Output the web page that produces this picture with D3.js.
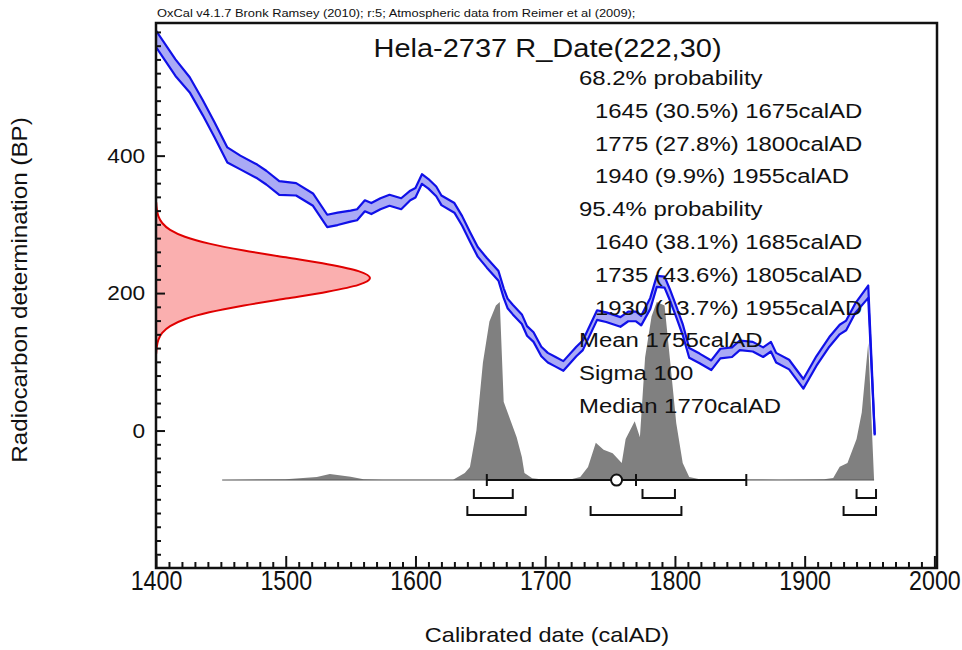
<!DOCTYPE html>
<html>
<head>
<meta charset="utf-8">
<script src="https://cdn.jsdelivr.net/npm/d3@7"></script>
<style>
body{margin:0;background:#fff}
svg{display:block}
text{font-family:"Liberation Sans",Arial,sans-serif;fill:#111}
</style>
</head>
<body>
<svg width="962" height="650"></svg>
<script>
// calibration curve (IntCal09 atmospheric): year, BP, 1 sigma
var calYears = [1400,1415,1426,1436,1445,1455,1465,1478,1485,1495,1508,1521,1532,1540,1550,1555,1561,1566,1573,1580,1589,1596,1600,1605,1610,1616,1620,1630,1636,1642,1648,1655,1664,1668,1671,1675,1682,1686,1691,1697,1702,1708,1714,1724,1729,1740,1747,1758,1764,1770,1774,1781,1786,1792,1796,1801,1806,1811,1819,1828,1835,1844,1850,1860,1868,1874,1878,1888,1899,1909,1919,1927,1932,1939,1949,1954];
var calBP    = [570,528,503,470,438,401,390,377,368,353,351,336,305,308,312,314,327,323,330,335,330,342,346,366,359,348,335,324,305,282,260,244,225,200,185,176,162,145,136,115,106,100,94,115,124,168,165,158,166,166,160,185,217,216,198,173,147,113,105,95,112,114,124,122,114,122,106,96,68,101,129,147,153,178,202,-6];
var calErr   = [12,12,11,11,11,11,10,10,10,10,9,9,9,9,8,8,8,8,8,8,8,7,7,7,7,7,7,7,7,7,7,7,7,7,7,7,7,7,7,7,7,7,7,7,7,7,7,7,7,7,7,8,8,8,8,8,8,7,7,7,7,7,7,7,7,7,7,7,7,7,7,7,7,7,9,1];

// R_Date(222,30) likelihood
var rdateBP   = [112,122,132,142,152,162,172,182,192,202,212,222,232,242,252,262,272,282,292,302,312,322,332];
var rdateProb = [0.001,0.004,0.011,0.029,0.066,0.135,0.249,0.411,0.607,0.801,0.946,1,0.946,0.801,0.607,0.411,0.249,0.135,0.066,0.029,0.011,0.004,0.001];

// calibrated probability (relative)
var probYears  = [1451,1500,1524,1534,1550,1560,1575,1629,1638,1642,1647,1652,1657,1662,1665,1668,1673,1678,1682,1684,1690,1700,1720,1727,1733,1739,1745,1752,1759,1762,1769,1773,1777,1782,1786,1792,1796,1801,1806,1811,1820,1850,1880,1900,1915,1922,1927,1933,1940,1944,1949,1953.5];
var probValues = [0,0.005,0.017,0.034,0.019,0.004,0.002,0.002,0.04,0.073,0.28,0.66,0.89,0.98,1,0.44,0.34,0.24,0.13,0.04,0.01,0.002,0.004,0.017,0.073,0.21,0.17,0.15,0.096,0.23,0.33,0.24,0.69,0.92,1,0.98,0.69,0.32,0.096,0.017,0.003,0.003,0.002,0.003,0.005,0.011,0.075,0.095,0.23,0.38,0.77,0];

var range68 = [[1645,1675],[1775,1800],[1940,1955]];
var range95 = [[1640,1685],[1735,1805],[1930,1955]];
var meanYear = 1755, sigmaYears = 100, medianYear = 1770;

var xTicks = [1400,1500,1600,1700,1800,1900,2000];
var yTicks = [0,200,400];

var headerText = "OxCal v4.1.7 Bronk Ramsey (2010); r:5; Atmospheric data from Reimer et al (2009);";
var titleText = "Hela-2737 R_Date(222,30)";
var summaryLines = [
  ["68.2% probability", 0],
  ["1645 (30.5%) 1675calAD", 1],
  ["1775 (27.8%) 1800calAD", 1],
  ["1940 (9.9%) 1955calAD", 1],
  ["95.4% probability", 0],
  ["1640 (38.1%) 1685calAD", 1],
  ["1735 (43.6%) 1805calAD", 1],
  ["1930 (13.7%) 1955calAD", 1],
  ["Mean 1755calAD", 0],
  ["Sigma 100", 0],
  ["Median 1770calAD", 0]
];

var pL = 156, pR = 937, pT = 23, pB = 568;

var svg = d3.select('svg');

var x = d3.scaleLinear().domain([1400, 2002]).range([pL, pR]);
var y = d3.scaleLinear().domain([-200, 593]).range([pB, pT]);

svg.append('defs').append('clipPath').attr('id','plotclip')
  .append('rect').attr('x',pL).attr('y',pT).attr('width',pR-pL).attr('height',pB-pT);

var plot = svg.append('g').attr('clip-path','url(#plotclip)');

function txt(g, s, tx, ty, size, sx, anchor) {
  return g.append('text')
    .attr('transform','translate(' + tx + ',' + ty + ') scale(' + sx + ',1)')
    .attr('font-size', size)
    .attr('text-anchor', anchor || 'start')
    .text(s);
}

// red likelihood on the y axis
var rdate = rdateBP.map(function(b,i){ return {bp:b, p:rdateProb[i]}; });
var rx = d3.scaleLinear().domain([0,1]).range([pL, pL+214]);
plot.append('path')
  .datum(rdate)
  .attr('d', d3.area().curve(d3.curveMonotoneY)
    .y(d=>y(d.bp)).x0(pL).x1(d=>rx(d.p)))
  .attr('fill','rgb(250,175,175)');
plot.append('path')
  .datum(rdate)
  .attr('d', d3.line().curve(d3.curveMonotoneY).y(d=>y(d.bp)).x(d=>rx(d.p)))
  .attr('fill','none').attr('stroke','#e00000').attr('stroke-width',2);

// grey calibrated distribution
var baseBP = -72;
var yBase = y(baseBP);
var py = d3.scaleLinear().domain([0,1]).range([yBase, yBase-178]);
var prob = probYears.map(function(t,i){ return {t:t, p:probValues[i]}; });
plot.append('path')
  .datum(prob)
  .attr('d', d3.area().x(d=>x(d.t)).y0(yBase).y1(d=>py(d.p)))
  .attr('fill','#808080');
plot.append('line')
  .attr('x1', x(probYears[0])).attr('x2', x(probYears[probYears.length-1]))
  .attr('y1', yBase).attr('y2', yBase)
  .attr('stroke','#555').attr('stroke-width',1);

// calibration curve band
var cal = calYears.map(function(t,i){ return {t:t, bp:calBP[i], e:calErr[i]}; });
plot.append('path')
  .datum(cal)
  .attr('d', d3.area().x(d=>x(d.t)).y0(d=>y(d.bp-d.e)).y1(d=>y(d.bp+d.e)))
  .attr('fill','rgb(170,170,245)');
[1,-1].forEach(function(s){
  plot.append('path')
    .datum(cal)
    .attr('d', d3.line().x(d=>x(d.t)).y(d=>y(d.bp + s*d.e)))
    .attr('fill','none').attr('stroke','#1010e8').attr('stroke-width',2.2)
    .attr('stroke-linejoin','round');
});

// mean / sigma marker
var mk = svg.append('g').attr('stroke','#111').attr('stroke-width',2).attr('fill','none');
mk.append('line').attr('x1',x(meanYear-sigmaYears)).attr('x2',x(meanYear+sigmaYears))
  .attr('y1',yBase).attr('y2',yBase);
[meanYear-sigmaYears, meanYear+sigmaYears, medianYear].forEach(function(t){
  mk.append('line').attr('x1',x(t)).attr('x2',x(t)).attr('y1',yBase-6).attr('y2',yBase+6);
});
mk.append('circle').attr('cx',x(meanYear)).attr('cy',yBase).attr('r',5.5).attr('fill','#fff');

// range brackets
function brackets(ranges, yb) {
  ranges.forEach(function(r){
    mk.append('path').attr('d',
      'M' + x(r[0]) + ',' + (yb-9) + 'V' + yb + 'H' + x(r[1]) + 'V' + (yb-9));
  });
}
brackets(range68, yBase+18);
brackets(range95, yBase+35);

// axes
var ax = svg.append('g');
var xMinor = d3.range(1400, 2001, 10).filter(v => v % 100 !== 0);
var yMinor = d3.range(-180, 593, 20).filter(v => v % 200 !== 0);

ax.append('g').attr('transform','translate(0,' + pB + ')')
  .call(d3.axisBottom(x).tickValues(xMinor).tickSizeInner(-6).tickSizeOuter(0).tickFormat(''));
var xa = ax.append('g').attr('transform','translate(0,' + pB + ')')
  .call(d3.axisBottom(x).tickValues(xTicks).tickSizeInner(-12).tickSizeOuter(0).tickPadding(3).tickFormat(d3.format('d')));
xa.selectAll('text').attr('font-size',27).attr('fill','#111')
  .attr('transform','scale(0.86,1)').style('font-family','"Liberation Sans",Arial,sans-serif');

ax.append('g').attr('transform','translate(' + pL + ',0)')
  .call(d3.axisLeft(y).tickValues(yMinor).tickSizeInner(-5).tickSizeOuter(0).tickFormat(''));
var ya = ax.append('g').attr('transform','translate(' + pL + ',0)')
  .call(d3.axisLeft(y).tickValues(yTicks).tickSizeInner(-9).tickSizeOuter(0).tickPadding(10).tickFormat(d3.format('d')));
ya.selectAll('text').attr('font-size',21).attr('fill','#111')
  .attr('transform','scale(1.08,1)').style('font-family','"Liberation Sans",Arial,sans-serif');

ax.selectAll('.domain').remove();
ax.selectAll('.tick line').attr('stroke','#111').attr('stroke-width',2);

svg.append('rect').attr('x',pL).attr('y',pT).attr('width',pR-pL).attr('height',pB-pT)
  .attr('fill','none').attr('stroke','#111').attr('stroke-width',2.5);

// texts
txt(svg, headerText, 157, 17, 11, 1.17);
txt(svg, titleText, (pL+pR)/2 + 1, 57, 25, 1.16, 'middle');
summaryLines.forEach(function(l, i){
  txt(svg, l[0], l[1] ? 595 : 579, 85 + i*32.8, 21, 1.14);
});
txt(svg, "Calibrated date (calAD)", 547, 642, 21, 1.12, 'middle');
svg.append('text')
  .attr('transform','translate(27,290) rotate(-90) scale(1.1,1)')
  .attr('font-size',22).attr('text-anchor','middle')
  .text("Radiocarbon determination (BP)");
</script>
</body>
</html>
